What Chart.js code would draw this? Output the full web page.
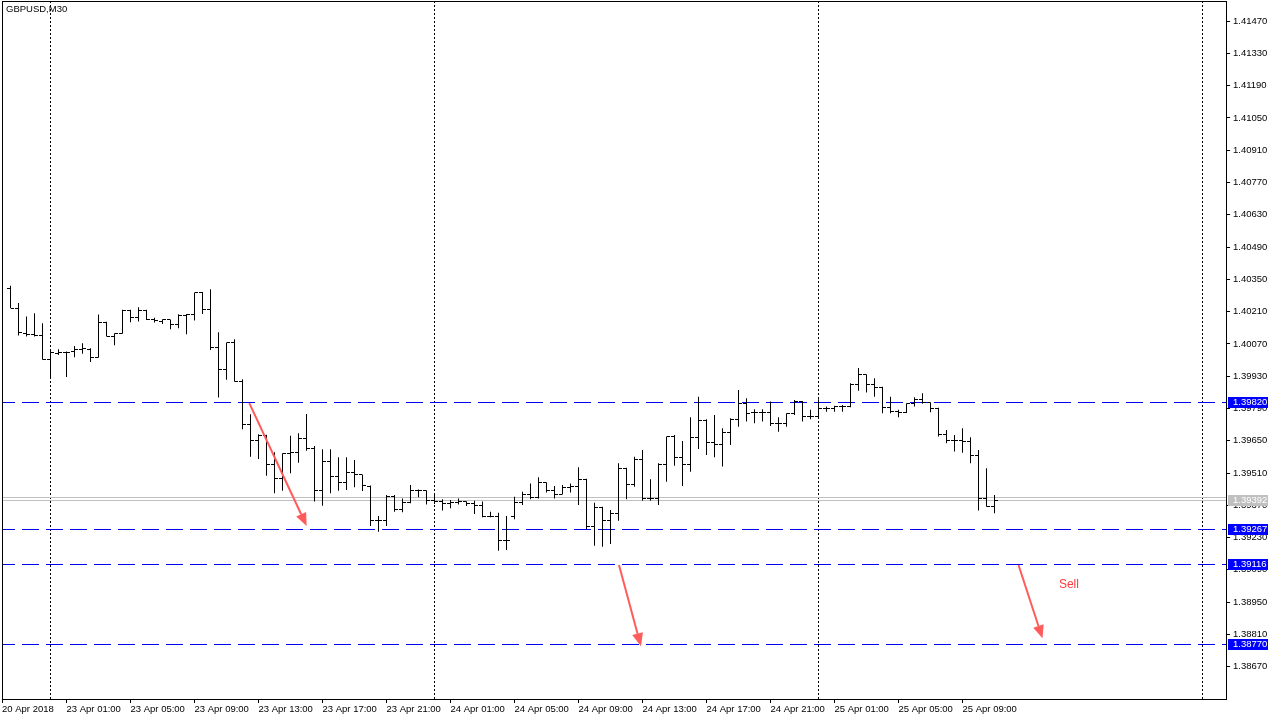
<!DOCTYPE html>
<html>
<head>
<meta charset="utf-8">
<title>GBPUSD,M30</title>
<script src="https://cdn.jsdelivr.net/npm/chart.js@4.4.1/dist/chart.umd.min.js"></script>
<style>
  html, body { margin: 0; padding: 0; background: #fff; }
  canvas { display: block; }
</style>
</head>
<body>
<canvas id="chart" width="1280" height="720"></canvas>
<script>
// M30 bars, 20 Apr 2018 late session -> 25 Apr ~10:30 (bar index = position on the time axis)
const opens = [
  1.40312, 1.40225, 1.40116, 1.40109, 1.40105, 1.40004, 1.40030, 1.40032, 1.40037, 1.40044,
  1.40047, 1.40012, 1.40164, 1.40102, 1.40116, 1.40216, 1.40186, 1.40216, 1.40174, 1.40167,
  1.40174, 1.40156, 1.40195, 1.40196, 1.40293, 1.40218, 1.40056, 1.39960, 1.40076, 1.39906,
  1.39722, 1.39650, 1.39674, 1.39545, 1.39487, 1.39596, 1.39600, 1.39661, 1.39617, 1.39433,
  1.39562, 1.39494, 1.39468, 1.39512, 1.39502, 1.39452, 1.39306, 1.39303, 1.39410, 1.39353,
  1.39381, 1.39436, 1.39433, 1.39389, 1.39386, 1.39379, 1.39381, 1.39386, 1.39376, 1.39367,
  1.39321, 1.39321, 1.39216, 1.39321, 1.39381, 1.39419, 1.39405, 1.39468, 1.39436, 1.39419,
  1.39448, 1.39451, 1.39483, 1.39280, 1.39361, 1.39303, 1.39335, 1.39531, 1.39461, 1.39567,
  1.39400, 1.39400, 1.39545, 1.39668, 1.39578, 1.39549, 1.39665, 1.39736, 1.39642, 1.39632,
  1.39687, 1.39743, 1.39810, 1.39772, 1.39772, 1.39772, 1.39726, 1.39723, 1.39766, 1.39820,
  1.39755, 1.39755, 1.39788, 1.39791, 1.39798, 1.39798, 1.39892, 1.39936, 1.39892, 1.39882,
  1.39794, 1.39776, 1.39772, 1.39810, 1.39830, 1.39815, 1.39791, 1.39679, 1.39653, 1.39649,
  1.39646, 1.39584, 1.39400, 1.39364
];
const highs = [
  1.40322, 1.40247, 1.40189, 1.40203, 1.40160, 1.40040, 1.40047, 1.40037, 1.40061, 1.40073,
  1.40051, 1.40197, 1.40166, 1.40116, 1.40218, 1.40218, 1.40229, 1.40218, 1.40183, 1.40177,
  1.40176, 1.40199, 1.40200, 1.40293, 1.40295, 1.40307, 1.40121, 1.40076, 1.40090, 1.39917,
  1.39765, 1.39678, 1.39676, 1.39600, 1.39596, 1.39672, 1.39683, 1.39766, 1.39627, 1.39613,
  1.39613, 1.39578, 1.39578, 1.39567, 1.39504, 1.39456, 1.39324, 1.39415, 1.39415, 1.39400,
  1.39458, 1.39439, 1.39435, 1.39415, 1.39396, 1.39393, 1.39400, 1.39388, 1.39390, 1.39386,
  1.39342, 1.39338, 1.39324, 1.39407, 1.39429, 1.39465, 1.39492, 1.39470, 1.39454, 1.39458,
  1.39465, 1.39535, 1.39485, 1.39381, 1.39364, 1.39350, 1.39552, 1.39533, 1.39581, 1.39610,
  1.39483, 1.39552, 1.39668, 1.39675, 1.39649, 1.39752, 1.39841, 1.39743, 1.39762, 1.39704,
  1.39748, 1.39870, 1.39834, 1.39787, 1.39787, 1.39820, 1.39752, 1.39769, 1.39827, 1.39822,
  1.39784, 1.39830, 1.39798, 1.39802, 1.39805, 1.39899, 1.39965, 1.39938, 1.39921, 1.39884,
  1.39841, 1.39784, 1.39813, 1.39839, 1.39856, 1.39817, 1.39793, 1.39697, 1.39675, 1.39704,
  1.39665, 1.39610, 1.39531, 1.39415
];
const lows = [
  1.40225, 1.40106, 1.40102, 1.40102, 1.40001, 1.39921, 1.40022, 1.39926, 1.40012, 1.40027,
  1.39992, 1.40010, 1.40102, 1.40064, 1.40114, 1.40164, 1.40167, 1.40174, 1.40163, 1.40156,
  1.40134, 1.40138, 1.40112, 1.40171, 1.40200, 1.40044, 1.39837, 1.39914, 1.39906, 1.39700,
  1.39581, 1.39571, 1.39498, 1.39422, 1.39433, 1.39509, 1.39555, 1.39607, 1.39386, 1.39368,
  1.39422, 1.39433, 1.39436, 1.39448, 1.39432, 1.39280, 1.39255, 1.39280, 1.39342, 1.39340,
  1.39379, 1.39405, 1.39374, 1.39376, 1.39347, 1.39357, 1.39374, 1.39367, 1.39332, 1.39318,
  1.39318, 1.39173, 1.39176, 1.39309, 1.39371, 1.39396, 1.39400, 1.39425, 1.39400, 1.39417,
  1.39425, 1.39371, 1.39266, 1.39195, 1.39190, 1.39202, 1.39303, 1.39396, 1.39451, 1.39390,
  1.39390, 1.39371, 1.39472, 1.39541, 1.39454, 1.39516, 1.39614, 1.39588, 1.39578, 1.39538,
  1.39632, 1.39711, 1.39733, 1.39726, 1.39733, 1.39714, 1.39689, 1.39711, 1.39762, 1.39733,
  1.39743, 1.39748, 1.39776, 1.39776, 1.39776, 1.39795, 1.39867, 1.39859, 1.39841, 1.39769,
  1.39769, 1.39752, 1.39770, 1.39798, 1.39810, 1.39774, 1.39668, 1.39639, 1.39603, 1.39598,
  1.39552, 1.39347, 1.39364, 1.39335
];
const closes = [
  1.40225, 1.40121, 1.40109, 1.40106, 1.40001, 1.40032, 1.40032, 1.40032, 1.40044, 1.40050,
  1.40012, 1.40164, 1.40102, 1.40116, 1.40216, 1.40186, 1.40216, 1.40174, 1.40170, 1.40174,
  1.40156, 1.40195, 1.40196, 1.40293, 1.40218, 1.40056, 1.39960, 1.40076, 1.39906, 1.39722,
  1.39650, 1.39674, 1.39545, 1.39487, 1.39596, 1.39600, 1.39661, 1.39617, 1.39433, 1.39562,
  1.39494, 1.39468, 1.39512, 1.39502, 1.39458, 1.39306, 1.39303, 1.39410, 1.39353, 1.39381,
  1.39436, 1.39433, 1.39389, 1.39386, 1.39379, 1.39381, 1.39386, 1.39376, 1.39367, 1.39321,
  1.39321, 1.39216, 1.39216, 1.39381, 1.39419, 1.39405, 1.39468, 1.39436, 1.39419, 1.39448,
  1.39451, 1.39483, 1.39276, 1.39361, 1.39303, 1.39335, 1.39531, 1.39461, 1.39567, 1.39400,
  1.39400, 1.39545, 1.39668, 1.39578, 1.39549, 1.39665, 1.39736, 1.39642, 1.39632, 1.39687,
  1.39743, 1.39810, 1.39769, 1.39772, 1.39772, 1.39726, 1.39723, 1.39766, 1.39820, 1.39755,
  1.39755, 1.39788, 1.39791, 1.39798, 1.39798, 1.39892, 1.39936, 1.39892, 1.39882, 1.39794,
  1.39776, 1.39772, 1.39810, 1.39830, 1.39815, 1.39791, 1.39679, 1.39653, 1.39649, 1.39646,
  1.39584, 1.39400, 1.39364, 1.39392
];

// time axis labels and the bar each one sits on
const timeLabels = ["20 Apr 2018", "23 Apr 01:00", "23 Apr 05:00", "23 Apr 09:00", "23 Apr 13:00",
  "23 Apr 17:00", "23 Apr 21:00", "24 Apr 01:00", "24 Apr 05:00", "24 Apr 09:00", "24 Apr 13:00",
  "24 Apr 17:00", "24 Apr 21:00", "25 Apr 01:00", "25 Apr 05:00", "25 Apr 09:00"];
const timeLabelBars = [0, 7, 15, 23, 31, 39, 47, 55, 63, 71, 79, 87, 95, 103, 111, 119];
const daySeparatorBars = [5, 53, 101, 149];

// price axis
const priceTicks = ["1.41470", "1.41330", "1.41190", "1.41050", "1.40910", "1.40770", "1.40630",
  "1.40490", "1.40350", "1.40210", "1.40070", "1.39930", "1.39790", "1.39650", "1.39510",
  "1.39370", "1.39230", "1.39090", "1.38950", "1.38810", "1.38670"];

// horizontal levels, bid/ask, arrows
const levelPrices = [1.39820, 1.39267, 1.39116, 1.38770];
const bidPrice = 1.39392;
const askPrice = 1.39405;
const arrowFrom = [[29.85, 1.39813], [76.06, 1.39111], [126.0, 1.39111]];
const arrowTo = [[37.02, 1.39280], [78.81, 1.38759], [129.0, 1.38793]];
const noteText = "Sell";
const notePos = [132.3, 1.39024];
const symbolTitle = "GBPUSD,M30";

const FONT = "'Liberation Sans', Arial, sans-serif";
const levelColor = "#0000f0";
const arrowColor = "#ff5b5b";

const barData = lows.map((l, i) => ({ x: i, y: [l, highs[i]] }));

//dibujar ticks de apertura/cierre, lineas y flechas
const mtPlugin = {
  id: "mtPlugin",
  beforeDatasetsDraw(chart) {
    const { ctx, chartArea: a, scales: { x, y } } = chart;
    ctx.save();
    ctx.lineWidth = 1;

    // day separators
    ctx.strokeStyle = "#000";
    ctx.setLineDash([2, 2]);
    daySeparatorBars.forEach((b) => {
      const px = x.getPixelForValue(b);
      ctx.beginPath();
      ctx.moveTo(px, a.top);
      ctx.lineTo(px, a.bottom);
      ctx.stroke();
    });

    // bid / ask
    ctx.setLineDash([]);
    ctx.strokeStyle = "#c0c0c0";
    [bidPrice, askPrice].forEach((p) => {
      const py = Math.round(y.getPixelForValue(p)) + 0.5;
      ctx.beginPath();
      ctx.moveTo(a.left, py);
      ctx.lineTo(a.right, py);
      ctx.stroke();
    });

    // levels
    ctx.strokeStyle = levelColor;
    ctx.setLineDash([17, 7]);
    ctx.lineDashOffset = 4;
    levelPrices.forEach((p) => {
      const py = Math.round(y.getPixelForValue(p)) + 0.5;
      ctx.beginPath();
      ctx.moveTo(a.left, py);
      ctx.lineTo(a.right, py);
      ctx.stroke();
    });
    ctx.restore();
  },
  afterDatasetsDraw(chart) {
    const { ctx, scales: { x, y } } = chart;
    ctx.save();
    ctx.fillStyle = "#000";
    opens.forEach((o, i) => {
      const px = x.getPixelForValue(i);
      ctx.fillRect(px - 3.5, Math.floor(y.getPixelForValue(o)), 3, 1);
      ctx.fillRect(px + 0.5, Math.floor(y.getPixelForValue(closes[i])), 3, 1);
    });

    // arrows
    ctx.strokeStyle = arrowColor;
    ctx.fillStyle = arrowColor;
    ctx.lineWidth = 2;
    arrowFrom.forEach((f, i) => {
      const x1 = x.getPixelForValue(f[0]), y1 = y.getPixelForValue(f[1]);
      const x2 = x.getPixelForValue(arrowTo[i][0]), y2 = y.getPixelForValue(arrowTo[i][1]);
      const ang = Math.atan2(y2 - y1, x2 - x1);
      const len = 13, half = 5.5;
      const bx = x2 - len * Math.cos(ang), by = y2 - len * Math.sin(ang);
      ctx.beginPath();
      ctx.moveTo(x1, y1);
      ctx.lineTo(bx, by);
      ctx.stroke();
      ctx.beginPath();
      ctx.moveTo(x2, y2);
      ctx.lineTo(bx + half * Math.sin(ang), by - half * Math.cos(ang));
      ctx.lineTo(bx - half * Math.sin(ang), by + half * Math.cos(ang));
      ctx.closePath();
      ctx.fill();
    });

    ctx.fillStyle = "#ff3a3a";
    ctx.font = "12px " + FONT;
    ctx.textAlign = "center";
    ctx.textBaseline = "middle";
    ctx.fillText(noteText, x.getPixelForValue(notePos[0]), y.getPixelForValue(notePos[1]));
    ctx.restore();
  },
  afterDraw(chart) {
    const { ctx, chartArea: a, scales: { y } } = chart;
    ctx.save();
    // frame
    ctx.strokeStyle = "#000";
    ctx.lineWidth = 1;
    ctx.strokeRect(a.left + 0.5, a.top + 0.5, a.right - a.left, a.bottom - a.top);

    // title
    ctx.fillStyle = "#000";
    ctx.font = "9.5px " + FONT;
    ctx.textBaseline = "middle";
    ctx.fillText(symbolTitle, a.left + 4, a.top + 8);

    // price labels on the scale
    const tag = (p, color) => {
      const py = Math.round(y.getPixelForValue(p));
      ctx.fillStyle = color;
      ctx.fillRect(a.right + 2, py - 5, 40, 11);
      ctx.fillStyle = "#fff";
      ctx.fillText(p.toFixed(5), a.right + 7, py + 0.5);
    };
    levelPrices.forEach((p) => tag(p, "#0000ff"));
    tag(bidPrice, "#c0c0c0");
    ctx.restore();
  }
};

const zeroPad = (axis) => {
  axis.paddingTop = 0;
  axis.paddingBottom = 0;
  axis.paddingLeft = 0;
  axis.paddingRight = 0;
};

const ctx = document.getElementById("chart").getContext("2d");
const chart = new Chart(ctx, {
  type: "bar",
  data: {
    datasets: [{
      data: barData,
      backgroundColor: "#000",
      borderWidth: 0,
      barThickness: 1,
      inflateAmount: 0,
      grouped: false
    }]
  },
  options: {
    responsive: false,
    devicePixelRatio: 1,
    animation: false,
    events: [],
    layout: { padding: { left: 2, top: 1, right: 0, bottom: 0 } },
    plugins: { legend: { display: false }, tooltip: { enabled: false } },
    scales: {
      x: {
        type: "linear",
        offset: false,
        min: -1.0625,
        max: 151.9375,
        grid: { drawOnChartArea: false, offset: false, tickLength: 4, color: "#000" },
        border: { display: true, color: "#000" },
        ticks: {
          autoSkip: false,
          maxRotation: 0,
          align: "start",
          padding: 1,
          color: "#000",
          font: { family: FONT, size: 9.5 },
          callback: (v, i) => timeLabels[i]
        },
        afterBuildTicks: (axis) => {
          axis.ticks = timeLabelBars.map((b, i) => ({ value: i === 0 ? axis.min : b }));
        },
        afterFit: (axis) => { axis.height = 21; zeroPad(axis); }
      },
      y: {
        type: "linear",
        position: "right",
        min: 1.38530,
        max: 1.41557,
        grid: { drawOnChartArea: false, tickLength: 4, color: "#000" },
        border: { display: true, color: "#000" },
        ticks: {
          padding: 3,
          color: "#000",
          font: { family: FONT, size: 9.5 },
          callback: (v) => v.toFixed(5)
        },
        afterBuildTicks: (axis) => {
          axis.ticks = priceTicks.map((t) => ({ value: parseFloat(t) }));
        },
        afterFit: (axis) => { axis.width = 54; zeroPad(axis); }
      }
    }
  },
  plugins: [mtPlugin]
});
</script>
</body>
</html>
